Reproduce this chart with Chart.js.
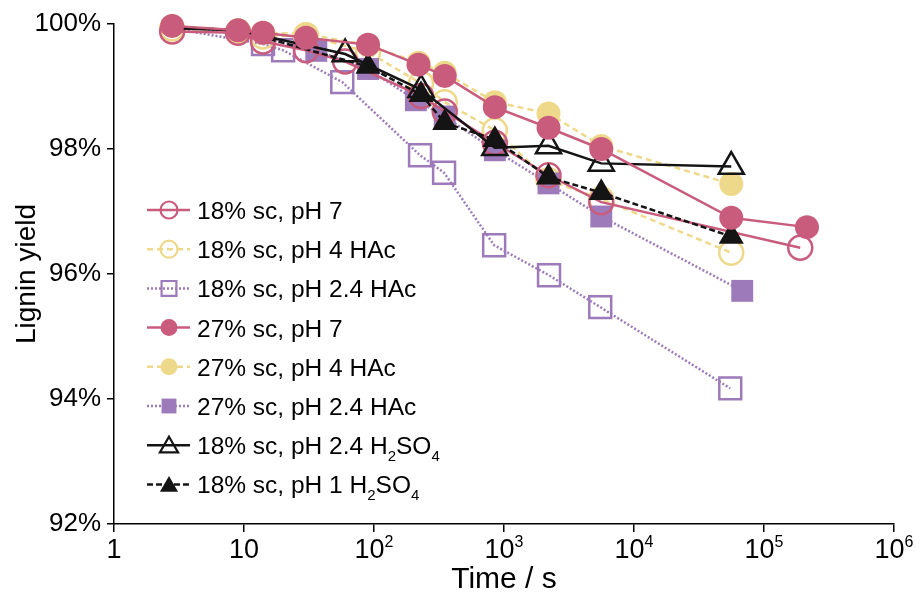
<!DOCTYPE html>
<html>
<head>
<meta charset="utf-8">
<script src="https://cdn.jsdelivr.net/npm/chart.js@4/dist/chart.umd.min.js"></script>
<style>
  html, body { margin: 0; padding: 0; background: #fff; }
  #wrap { width: 916px; height: 598px; }
</style>
</head>
<body>
<div id="wrap"><canvas id="chart" width="916" height="598"></canvas></div>
<script>
// values
const xTicks = [1, 10, 100, 1000, 10000, 100000, 1000000];
const yTicks = [92, 94, 96, 98, 100];

const seriesLabels = [
  '18% sc, pH 7',
  '18% sc, pH 4 HAc',
  '18% sc, pH 2.4 HAc',
  '27% sc, pH 7',
  '27% sc, pH 4 HAc',
  '27% sc, pH 2.4 HAc',
  '18% sc, pH 2.4 H_2SO_4',
  '18% sc, pH 1 H_2SO_4'
];

const times18pH7 = [2.8, 9, 14, 30, 60, 230, 350, 850, 2200, 5600, 190000];
const yield18pH7 = [99.88, 99.86, 99.72, 99.58, 99.4, 98.85, 98.6, 98.1, 97.58, 97.15, 96.42];

const times18pH4 = [2.8, 9, 14, 30, 90, 230, 350, 850, 2200, 5600, 56000];
const yield18pH4 = [99.93, 99.88, 99.8, 99.82, 99.55, 99.05, 98.75, 98.3, 97.5, 97.2, 96.34];

const times18pH24 = [2.8, 14, 20, 57, 226, 346, 840, 2220, 5500, 55000];
const yield18pH24 = [99.93, 99.68, 99.58, 99.07, 97.9, 97.62, 96.46, 95.98, 95.47, 94.17];

const times27pH7 = [2.8, 9, 14, 30, 90, 220, 350, 850, 2200, 5600, 56000, 214000];
const yield27pH7 = [99.97, 99.9, 99.86, 99.78, 99.67, 99.35, 99.17, 98.67, 98.34, 98.0, 96.9, 96.75];

const times27pH4 = [2.8, 9, 14, 30, 90, 220, 350, 850, 2200, 5600, 56000];
const yield27pH4 = [99.97, 99.9, 99.86, 99.84, 99.66, 99.38, 99.22, 98.75, 98.57, 98.05, 97.44];

const times27pH24 = [2.8, 9, 14, 36, 90, 210, 350, 850, 2200, 5600, 68000];
const yield27pH24 = [99.95, 99.88, 99.78, 99.57, 99.28, 98.78, 98.52, 97.98, 97.45, 96.92, 95.73];

const timesSulfpH24 = [2.8, 9, 60, 230, 850, 2200, 5600, 56000];
const yieldSulfpH24 = [99.93, 99.9, 99.52, 98.95, 98.02, 98.05, 97.77, 97.72];

const timesSulfpH1 = [2.8, 9, 90, 230, 350, 850, 2200, 5600, 56000];
const yieldSulfpH1 = [99.95, 99.9, 99.32, 98.87, 98.42, 98.15, 97.55, 97.3, 96.6];

const PINK = '#c95c7c';
const YELLOW = '#eed98b';
const PURPLE = '#9d7bba';
const BLACK = '#141414';
const FONT = '"Liberation Sans", Arial, Helvetica, sans-serif';

const toPoints = (xs, ys) => xs.map((x, i) => ({ x: x, y: ys[i] }));

// style per series: marker, fill, dash, drawing order (lower = on top),
// and how many leading points are drawn without a marker (hidden in the figure)
function makeSet(label, xs, ys, color, style, filled, dash, order, bare) {
  const r = style === 'circle' ? 12 : (style === 'rect' ? 15.5 : 14.5);
  return {
    label: label,
    data: toPoints(xs, ys),
    borderColor: color,
    borderWidth: 2.5,
    borderDash: dash,
    borderCapStyle: 'butt',
    backgroundColor: color,
    pointStyle: style,
    pointRadius: xs.map((x, i) => (i < bare ? 0 : r)),
    pointBorderWidth: filled ? 0 : 2.5,
    pointBackgroundColor: filled ? color : 'rgba(0,0,0,0)',
    pointBorderColor: color,
    pointHoverRadius: 0,
    fill: false,
    tension: 0,
    clip: false,
    order: order,
    _filled: filled
  };
}

const datasets = [
  makeSet(seriesLabels[0], times18pH7, yield18pH7, PINK, 'circle', false, [], 3, 0),
  makeSet(seriesLabels[1], times18pH4, yield18pH4, YELLOW, 'circle', false, [6, 4], 6, 0),
  makeSet(seriesLabels[2], times18pH24, yield18pH24, PURPLE, 'rect', false, [2, 2], 7, 1),
  makeSet(seriesLabels[3], times27pH7, yield27pH7, PINK, 'circle', true, [], 0, 0),
  makeSet(seriesLabels[4], times27pH4, yield27pH4, YELLOW, 'circle', true, [6, 4], 5, 0),
  makeSet(seriesLabels[5], times27pH24, yield27pH24, PURPLE, 'rect', true, [2, 2], 4, 3),
  makeSet(seriesLabels[6], timesSulfpH24, yieldSulfpH24, BLACK, 'triangle', false, [], 1, 2),
  makeSet(seriesLabels[7], timesSulfpH1, yieldSulfpH1, BLACK, 'triangle', true, [6, 3], 2, 2)
];

function drawMarker(ctx, style, x, y, r, filled, color, lw) {
  ctx.save();
  ctx.beginPath();
  if (style === 'circle') {
    ctx.arc(x, y, r, 0, Math.PI * 2);
  } else if (style === 'rect') {
    const s = r * Math.SQRT1_2;
    ctx.rect(x - s, y - s, 2 * s, 2 * s);
  } else {
    ctx.moveTo(x, y - r);
    ctx.lineTo(x + r * 0.866, y + r / 2);
    ctx.lineTo(x - r * 0.866, y + r / 2);
    ctx.closePath();
  }
  if (filled) {
    ctx.fillStyle = color;
    ctx.fill();
  } else {
    ctx.setLineDash([]);
    ctx.lineWidth = lw;
    ctx.strokeStyle = color;
    ctx.stroke();
  }
  ctx.restore();
}

// text with "_d" subscripts and "^d" superscripts
function drawRich(ctx, text, x, y, size, align) {
  const parts = [];
  for (let i = 0; i < text.length; i++) {
    const c = text[i];
    if ((c === '_' || c === '^') && i + 1 < text.length) {
      parts.push({ t: text[i + 1], k: c });
      i++;
    } else {
      if (parts.length && parts[parts.length - 1].k === '') parts[parts.length - 1].t += c;
      else parts.push({ t: c, k: '' });
    }
  }
  const small = Math.round(size * 0.6);
  let total = 0;
  parts.forEach(p => {
    ctx.font = (p.k ? small : size) + 'px ' + FONT;
    p.w = ctx.measureText(p.t).width;
    total += p.w;
  });
  let cx = align === 'center' ? x - total / 2 : x;
  ctx.textAlign = 'left';
  ctx.textBaseline = 'alphabetic';
  parts.forEach(p => {
    ctx.font = (p.k ? small : size) + 'px ' + FONT;
    let dy = 0;
    if (p.k === '_') dy = size * 0.28;
    if (p.k === '^') dy = -size * 0.42;
    ctx.fillText(p.t, cx, y + dy);
    cx += p.w;
  });
}

const extrasPlugin = {
  id: 'extras',
  afterDraw(chart) {
    const ctx = chart.ctx;
    const xs = chart.scales.x;
    const area = chart.chartArea;
    ctx.save();
    ctx.fillStyle = '#000';

    // x tick labels with powers of ten
    xTicks.forEach(v => {
      const px = xs.getPixelForValue(v);
      const e = Math.round(Math.log10(v));
      const txt = e === 0 ? '1' : (e === 1 ? '10' : '10^' + e);
      drawRich(ctx, txt, px, area.bottom + 34, 27, 'center');
    });

    // legend inside the plot
    const lx0 = area.left + 33;
    const lx1 = area.left + 76;
    const mx = area.left + 55;
    const tx = area.left + 83;
    let ly = area.top + 186;
    datasets.forEach(ds => {
      ctx.save();
      ctx.strokeStyle = ds.borderColor;
      ctx.lineWidth = 2.5;
      ctx.setLineDash(ds.borderDash);
      ctx.beginPath();
      ctx.moveTo(lx0, ly);
      ctx.lineTo(lx1, ly);
      ctx.stroke();
      ctx.restore();
      const r = ds.pointStyle === 'circle' ? 8.5 : 10.5;
      drawMarker(ctx, ds.pointStyle, mx, ds.pointStyle === 'triangle' ? ly + 2 : ly, r, ds._filled, ds.borderColor, 2.2);
      ctx.fillStyle = '#000';
      drawRich(ctx, ds.label, tx, ly + 9, 24.5, 'left');
      ly += 39.2;
    });
    ctx.restore();
  }
};

new Chart(document.getElementById('chart'), {
  type: 'line',
  data: { datasets: datasets },
  options: {
    responsive: false,
    animation: false,
    events: [],
    layout: { padding: { left: 0, right: 22, top: 24, bottom: 0 } },
    plugins: {
      legend: { display: false },
      tooltip: { enabled: false }
    },
    scales: {
      x: {
        type: 'logarithmic',
        min: 1,
        max: 1000000,
        afterBuildTicks: s => { s.ticks = xTicks.map(v => ({ value: v })); },
        afterFit: s => { s.height = 74; },
        ticks: { display: false },
        grid: { display: true, drawOnChartArea: false, drawTicks: true, tickLength: 8, color: '#000', lineWidth: 1.5 },
        border: { display: true, color: '#000', width: 1.5 },
        title: {
          display: true,
          text: 'Time / s',
          color: '#000',
          font: { family: FONT, size: 30 },
          padding: { top: 0, bottom: 0 }
        }
      },
      y: {
        min: 92,
        max: 100,
        afterBuildTicks: s => { s.ticks = yTicks.map(v => ({ value: v })); },
        afterFit: s => { s.width = 114; },
        ticks: {
          callback: v => v + '%',
          color: '#000',
          font: { family: FONT, size: 26 },
          padding: 6
        },
        grid: { display: true, drawOnChartArea: false, drawTicks: true, tickLength: 7, color: '#000', lineWidth: 1.5 },
        border: { display: true, color: '#000', width: 1.5 },
        title: {
          display: true,
          text: 'Lignin yield',
          color: '#000',
          font: { family: FONT, size: 28 },
          padding: { top: 10, bottom: 0 }
        }
      }
    }
  },
  plugins: [extrasPlugin]
});
</script>
</body>
</html>
